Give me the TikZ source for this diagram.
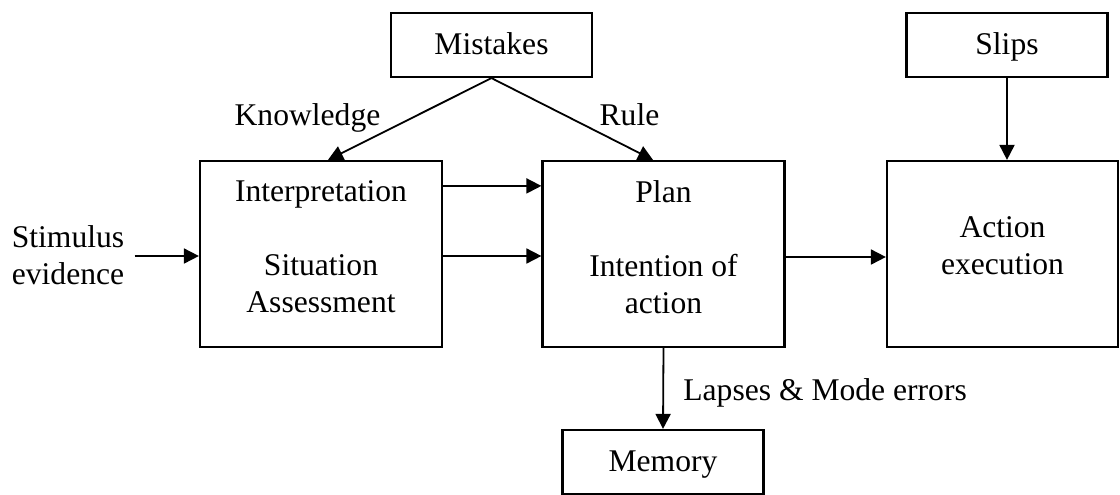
\documentclass[tikz,border=0pt]{standalone}
\usepackage{fontspec}
\setmainfont{Liberation Serif}
\usetikzlibrary{arrows.meta,calc}

\tikzset{
    caja/.style={draw, line width=1.1pt, align=center, inner sep=0pt},
    cajachica/.style={caja, minimum width=100.5pt, minimum height=32pt, text height=10.5pt, text depth=1.5pt},
    cajagrande/.style={caja, minimum width=121pt, minimum height=93pt},
    flecha/.style={line width=0.9pt, -{Triangle[length=7.5pt,width=7.5pt]}},
}
% profundidad extra en la ultima linea
\newcommand{\bajar}[1]{\rule[-#1]{0pt}{#1}}

\begin{document}
\begin{tikzpicture}[x=0.5pt, y=-0.5pt, font=\fontsize{15.8}{18.5}\selectfont]
    \useasboundingbox (0,0) rectangle (1120,494);

    % Fuentes de error
    \node[cajachica] (mistakes) at (491.5,45) {Mistakes};
    \node[cajachica] (slips) at (1007,45) {Slips};

    % Etapas
    \node[cajagrande] (interp) at (321,254) {Interpretation\\[18.5pt]Situation\\Assessment\bajar{7pt}};
    \node[cajagrande] (plan) at (663.5,254) {Plan\\[18.5pt]Intention of\\action\bajar{7pt}};
    \node[cajagrande, minimum width=115.5pt] (action) at (1002.5,254) {Action\\execution\bajar{8pt}};
    \node[cajachica] (memory) at (663,462) {Memory};

    % Entrada
    \node[align=center, inner xsep=5pt] (stimulus) at (68,255) {Stimulus\\evidence};
    \coordinate (stimin) at ($(interp.west)+(0,2)$);

    % Etiquetas
    \node[anchor=base] (knowledge) at (307.5,125) {Knowledge};
    \node[anchor=base] (rule) at (629.5,125) {Rule};
    \node[anchor=base west, inner sep=0pt] (lapses) at (683,400) {Lapses \& Mode errors};

    % Flechas
    \draw[flecha] (mistakes.south) -- ($(interp.north)+(7,0)$);
    \draw[flecha] (mistakes.south) -- ($(plan.north)+(-10.5,0)$);
    \draw[flecha] (stimulus.east |- stimin) -- (stimin);
    \draw[flecha] ($(interp.north east)+(0,26)$) -- ($(plan.north west)+(0,26)$);
    \draw[flecha] ($(interp.east)+(0,2)$) -- ($(plan.west)+(0,2)$);
    \draw[flecha] ($(plan.east)+(0,3)$) -- ($(action.west)+(0,3)$);
    \draw[flecha] (slips.south) -- (slips.south |- action.north);
    \draw[flecha] (plan.south) -- (memory.north);
\end{tikzpicture}
\end{document}
